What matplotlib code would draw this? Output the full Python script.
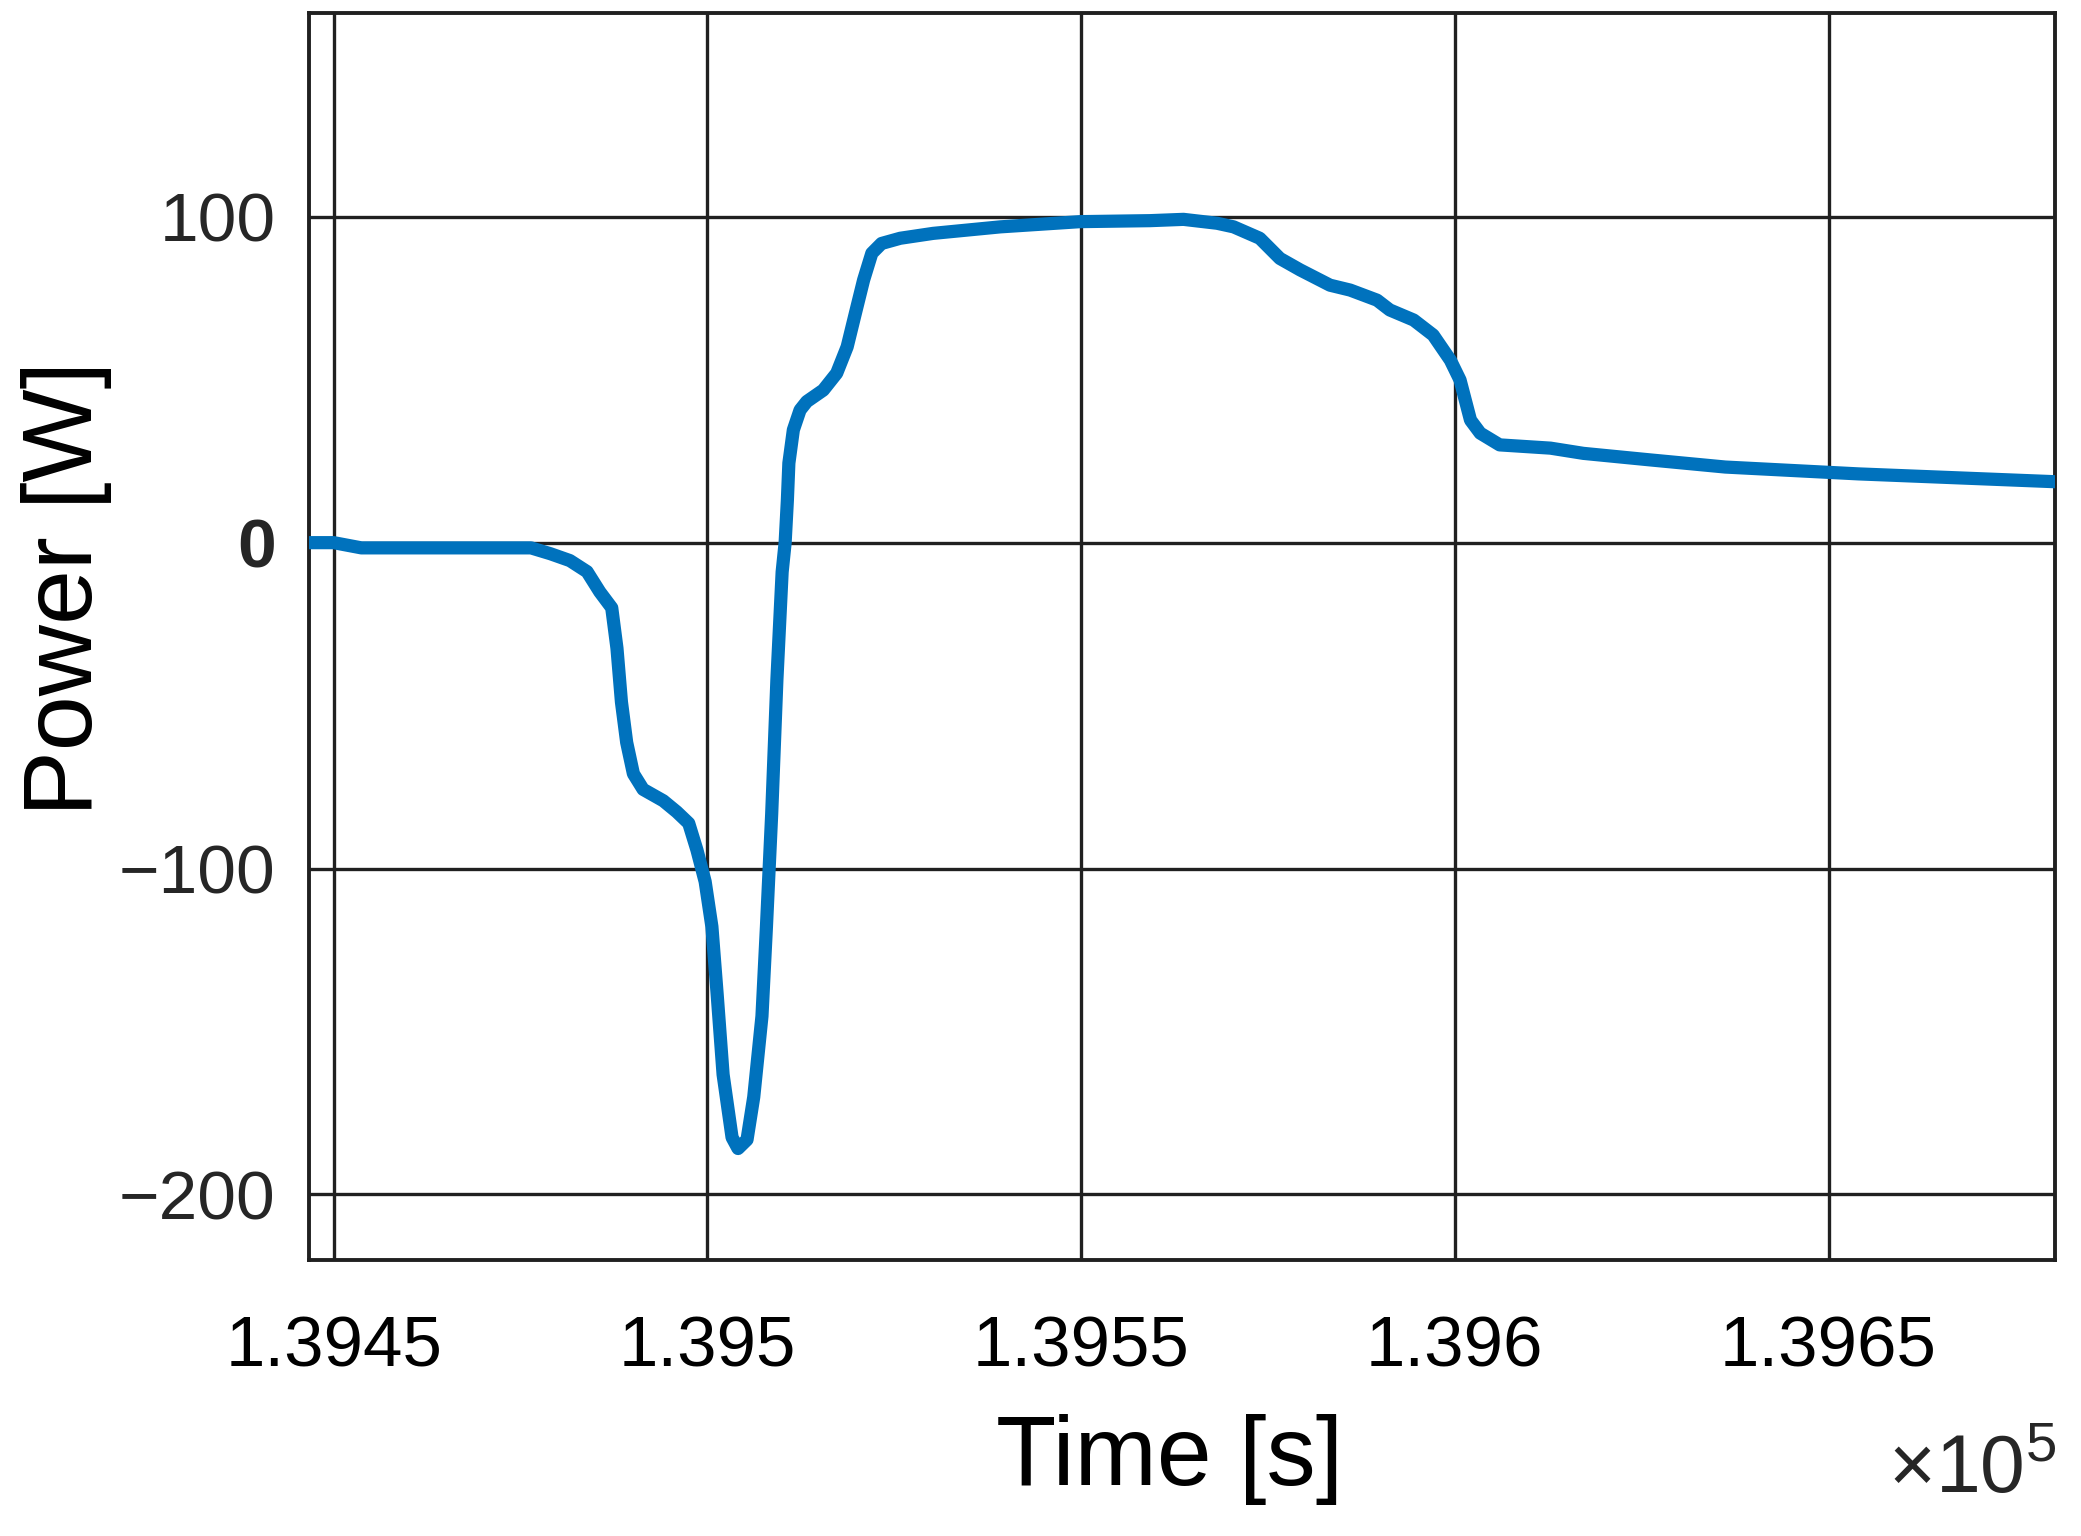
import matplotlib
matplotlib.use("Agg")
import matplotlib.pyplot as plt
import numpy as np

plt.rcParams['font.family'] = ['Liberation Sans', 'DejaVu Sans']
plt.rcParams['mathtext.fontset'] = 'custom'
plt.rcParams['mathtext.rm'] = 'Liberation Sans'

# time [s] and power [W]
time_s = [139446.7, 139450.0, 139453.7, 139476.4, 139479.0, 139481.6, 139483.9,
          139485.6, 139487.2, 139487.9, 139488.5, 139489.2, 139490.1, 139491.4,
          139494.1, 139495.9, 139497.5, 139498.6, 139499.7, 139500.6, 139501.3,
          139502.1, 139503.3, 139504.1, 139505.3, 139506.2, 139507.3, 139507.9,
          139508.6, 139509.3, 139510.0, 139510.4, 139510.7, 139510.9, 139511.5,
          139512.4, 139513.3, 139515.5, 139517.3, 139518.7, 139519.8, 139520.9,
          139522.0, 139523.3, 139525.8, 139530.2, 139539.2, 139549.9, 139559.2,
          139563.7, 139568.2, 139570.4, 139573.9, 139576.6, 139579.3, 139583.3,
          139586.0, 139589.6, 139591.3, 139594.5, 139597.1, 139599.4, 139600.7,
          139602.1, 139603.4, 139606.0, 139612.8, 139617.2, 139626.1, 139636.2,
          139654.0, 139680.3]
power_w = [0.0, 0.0, -1.6, -1.6, -3.4, -5.5, -8.9,
           -15.1, -20.0, -32.4, -48.9, -61.3, -70.9, -75.7,
           -79.2, -82.6, -86.1, -94.3, -104.0, -117.8, -138.4,
           -163.2, -182.5, -185.9, -183.2, -170.1, -145.3, -117.8,
           -83.3, -42.0, -9.0, 0.0, 13.0, 24.4, 34.6,
           40.7, 43.3, 46.8, 52.0, 60.1, 70.4, 80.6,
           88.8, 91.8, 93.4, 94.9, 96.9, 98.5, 98.8,
           99.2, 98.0, 96.9, 93.4, 87.2, 83.7, 79.0,
           77.5, 74.4, 71.4, 68.3, 63.7, 56.0, 49.9,
           37.6, 33.6, 30.0, 29.0, 27.4, 25.4, 23.2,
           21.1, 18.7]

x_ticks = [139450, 139500, 139550, 139600, 139650]
x_labels = ['1.3945', '1.395', '1.3955', '1.396', '1.3965']
y_ticks = [-200, -100, 0, 100]
y_labels = ['\u2212200', '\u2212100', '0', '100']

fig = plt.figure(figsize=(20.81, 15.36), dpi=100)
ax = fig.add_axes([0.1485, 0.1797, 0.8390, 0.8118])

ax.plot(time_s, power_w, color='#0072BD', linewidth=9.5, solid_joinstyle='round', zorder=3)

ax.set_xlim(139446.7, 139680.3)
ax.set_ylim(-220.1, 162.5)
ax.set_xticks(x_ticks)
ax.set_xticklabels(x_labels, fontsize=51)
ax.set_yticks(y_ticks)
ax.set_yticklabels(y_labels, fontsize=50, color='#262626')
for lab in ax.get_yticklabels():
    if lab.get_text() == '0':
        lab.set_fontweight('bold')

ax.tick_params(axis='x', length=0, pad=40)
ax.tick_params(axis='y', length=0, pad=24)
ax.grid(True, color='#202020', linewidth=2.4)
for sp in ax.spines.values():
    sp.set_linewidth(2.8)
    sp.set_color('#202020')

fig.text(0.562, 0.0495, 'Time [s]', fontsize=71, ha='center', va='center')
fig.text(0.032, 0.617, 'Power [W]', fontsize=71, rotation=90, ha='center', va='center')
fig.text(0.988, 0.042, r'$\times10^{5}$', fontsize=58, ha='right', va='center', color='#262626')

fig.savefig('out.png', dpi=100)
